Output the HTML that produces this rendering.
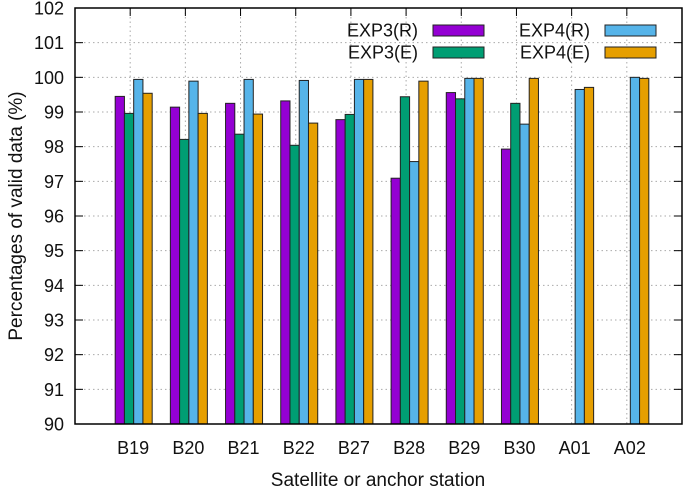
<!DOCTYPE html>
<html><head><meta charset="utf-8"><style>
body{margin:0;background:#fff}
svg text{font-family:"Liberation Sans",Helvetica,sans-serif;fill:#111}
</style></head><body>
<svg id="chart" width="685" height="488" xmlns="http://www.w3.org/2000/svg"></svg>
<script>
const categories=["B19","B20","B21","B22","B27","B28","B29","B30","A01","A02"];
const exp3R=[99.45,99.14,99.25,99.32,98.78,97.09,99.56,97.93,null,null];
const exp3E=[98.96,98.21,98.36,98.04,98.93,99.44,99.38,99.25,null,null];
const exp4R=[99.94,99.89,99.94,99.91,99.94,97.57,99.97,98.65,99.65,100.0];
const exp4E=[99.54,98.96,98.94,98.68,99.94,99.89,99.97,99.97,99.71,99.97];
const yTicks=[90,91,92,93,94,95,96,97,98,99,100,101,102];
const seriesNames=["EXP3(R)","EXP3(E)","EXP4(R)","EXP4(E)"];
const colors=["#9400d3","#009e73","#56b4e9","#e69f00"];
const NS="http://www.w3.org/2000/svg";
const svg=document.getElementById('chart');
const L=75,R=682,T=8,B=424;
const y=v=>B-(v-90)*(B-T)/12;
const x=i=>L+(i+1)*(R-L)/11;
function el(t,a,p){const e=document.createElementNS(NS,t);for(const k in a)e.setAttribute(k,a[k]);(p||svg).appendChild(e);return e;}
yTicks.forEach(v=>{
  if(v>90&&v<102){const g=el('line',{x1:L,x2:R,y1:y(v),y2:y(v),stroke:'#aaa','stroke-dasharray':'1.5,3','stroke-width':1});
  
  }
  const tk=el('line',{x1:L,x2:L+8,y1:y(v),y2:y(v),stroke:'#000'});
  
  
  const tk2=el('line',{x1:R-8,x2:R,y1:y(v),y2:y(v),stroke:'#000'});
  
  
  const t=el('text',{x:L-11,y:y(v)+6.5,'text-anchor':'end','font-size':18});t.textContent=v;
  
  
});
categories.forEach((c,i)=>{
  const g=el('line',{x1:x(i),x2:x(i),y1:T,y2:B,stroke:'#aaa','stroke-dasharray':'1.5,3'});
  
  
  const tk=el('line',{x1:x(i),x2:x(i),y1:T,y2:T+8,stroke:'#000'});
  
  
  const t=el('text',{x:x(i)+3,y:454,'text-anchor':'middle','font-size':18});t.textContent=c;
  
  
});
const all=[exp3R,exp3E,exp4R,exp4E];
const bw=9.25,off=[-15,-5.75,3.5,12.75];
categories.forEach((c,i)=>{
  all.forEach((s,k)=>{
    if(s[i]==null)return;
    const r=el('rect',{x:x(i)+off[k],y:y(s[i]),width:bw,height:B-y(s[i]),fill:colors[k],stroke:'#222','stroke-width':1});
    
    
  });
});
const f=el('rect',{x:L,y:T,width:R-L,height:B-T,fill:'none',stroke:'#000','stroke-width':1.5});


const lx=[[418,433],[418,433],[590,605],[590,605]],ly=[30,52,30,52];
seriesNames.forEach((n,k)=>{
  const t=el('text',{x:lx[k][0],y:ly[k]+6.5,'text-anchor':'end','font-size':18});t.textContent=n;
  
  
  const r=el('rect',{x:lx[k][1],y:ly[k]-5,width:51,height:11,fill:colors[k],stroke:'#222'});
  
  
});
const xt=el('text',{x:378,y:486,'text-anchor':'middle','font-size':19});xt.textContent='Satellite or anchor station';


const yt=el('text',{x:0,y:0,'text-anchor':'middle','font-size':19,transform:'translate(22,216) rotate(-90)'});yt.textContent='Percentages of valid data (%)';


</script>
</body></html>
